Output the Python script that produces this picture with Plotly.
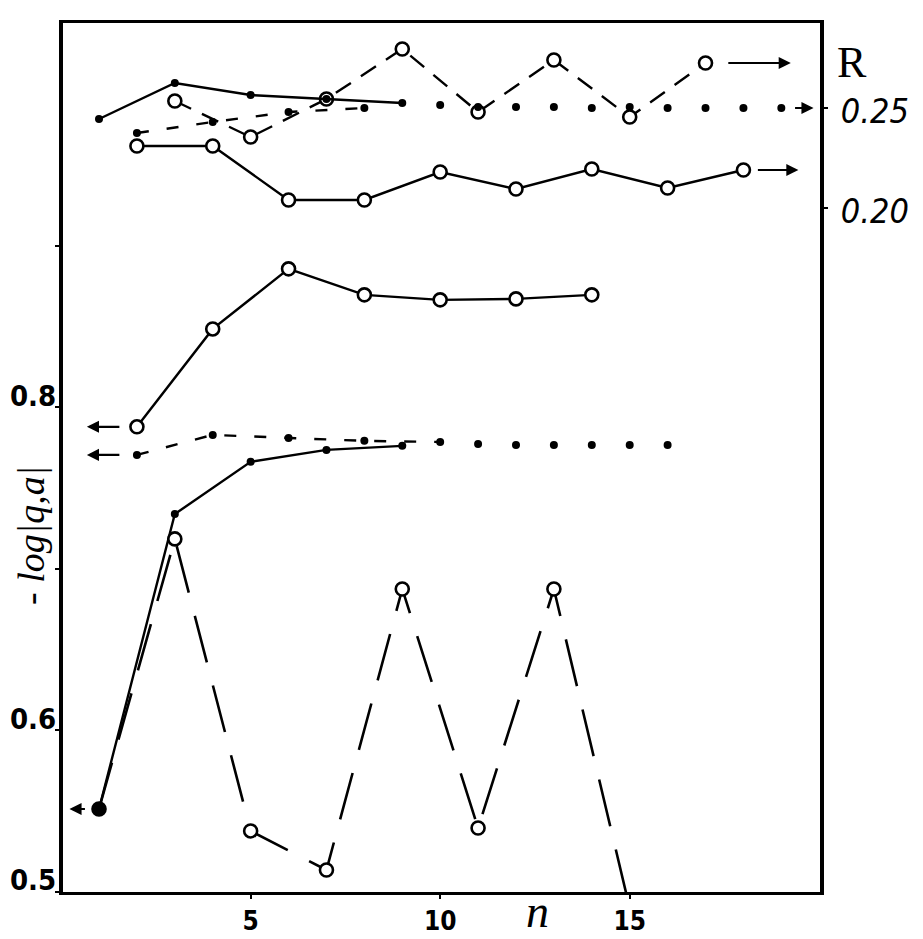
import plotly.graph_objects as go

# ---------------- data ----------------
# upper group, right axis R
top_dash_circ_n = [3, 5, 7, 9, 11, 13, 15, 17]
top_dash_circ_R = [0.2535, 0.2355, 0.2545, 0.2795, 0.248, 0.274, 0.2455, 0.2725]

top_solid_dot_n = [1, 3, 5, 7, 9]
top_solid_dot_R = [0.2445, 0.2625, 0.2565, 0.2545, 0.2525]

top_dash_dot_n = [2, 4, 6, 8]
top_dash_dot_R = [0.2375, 0.243, 0.248, 0.250]
top_dotted_n = [10, 11, 12, 13, 14, 15, 16, 17, 18, 19]
top_dotted_R = [0.2515, 0.2505, 0.2505, 0.2505, 0.250, 0.2505, 0.250, 0.250, 0.250, 0.250]

top_solid_circ_n = [2, 4, 6, 8, 10, 12, 14, 16, 18]
top_solid_circ_R = [0.231, 0.231, 0.204, 0.204, 0.218, 0.2095, 0.2195, 0.210, 0.219]

# lower group, left axis -log|q,a|
mid_circ_n = [2, 4, 6, 8, 10, 12, 14]
mid_circ_v = [0.788, 0.8486, 0.8858, 0.8697, 0.8666, 0.8672, 0.8697]

low_dash_dot_n = [2, 4, 6, 8, 10]
low_dash_dot_v = [0.7706, 0.783, 0.7811, 0.7793, 0.7786]
low_dotted_n = [11, 12, 13, 14, 15, 16]
low_dotted_v = [0.7774, 0.7768, 0.7768, 0.7768, 0.7768, 0.7768]

low_solid_dot_n = [1, 3, 5, 7, 9]
low_solid_dot_v = [0.5514, 0.734, 0.7663, 0.7737, 0.7762]

low_dash_circ_n = [1, 3, 5, 7, 9, 11, 13, 15]
low_dash_circ_v = [0.5514, 0.7186, 0.5378, 0.5136, 0.6876, 0.5396, 0.6876, 0.49]

x_ticks = [5, 10, 15]
y_ticks = [0.5, 0.6, 0.7, 0.8, 0.9]
y_ticktext = ["0.5", "0.6", "", "0.8", ""]
r_ticks = [0.20, 0.25]
r_ticktext = ["0.20", "0.25"]

# ---------------- styles ----------------
BLK = "black"
open_circ = dict(symbol="circle", size=13, color="white", line=dict(color=BLK, width=2.6))
dot = dict(symbol="circle", size=8, color=BLK)
NUMFONT = "DejaVu Sans Condensed, DejaVu Sans, sans-serif"

fig = go.Figure()

def add(x, y, axis, mode, marker=None, dash="solid", width=2.4):
    fig.add_trace(go.Scatter(
        x=x, y=y, yaxis=axis, mode=mode,
        line=dict(color=BLK, width=width, dash=dash),
        marker=marker, showlegend=False, hoverinfo="skip"))

# lower group (left axis)
add(low_dash_circ_n, low_dash_circ_v, "y", "lines", dash="48px,24px", width=2.6)
add(low_solid_dot_n, low_solid_dot_v, "y", "lines+markers", dot)
low_marker = dict(open_circ)
low_marker["color"] = [BLK] + ["white"] * (len(low_dash_circ_n) - 1)
add(low_dash_circ_n, low_dash_circ_v, "y", "markers", low_marker)
add(low_dash_dot_n, low_dash_dot_v, "y", "lines+markers", dot, dash="12px,18px")
add(low_dotted_n, low_dotted_v, "y", "markers", dot)
add(mid_circ_n, mid_circ_v, "y", "lines+markers", open_circ)

# upper group (right axis R)
add(top_solid_circ_n, top_solid_circ_R, "y2", "lines+markers", open_circ)
add(top_dash_circ_n, top_dash_circ_R, "y2", "lines+markers", open_circ, dash="18px,12px")
add(top_dash_dot_n, top_dash_dot_R, "y2", "lines+markers", dot, dash="12px,18px")
add(top_dotted_n, top_dotted_R, "y2", "markers", dot)
add(top_solid_dot_n, top_solid_dot_R, "y2", "lines+markers", dot)

# ---------------- arrows (anchored on series ends) ----------------
def arrow(x, y, yref, ax):
    fig.add_annotation(x=x, y=y, xref="x", yref=yref, ax=ax, ay=0,
                       showarrow=True, arrowhead=2, arrowsize=1.1,
                       arrowwidth=2.2, arrowcolor=BLK, text="")

arrow(top_dash_circ_n[-1] + 2.25, top_dash_circ_R[-1], "y2", -64)
arrow(top_dotted_n[-1] + 0.85, top_dotted_R[-1], "y2", -20)
arrow(top_solid_circ_n[-1] + 1.45, top_solid_circ_R[-1], "y2", -42)
arrow(mid_circ_n[0] - 1.32, mid_circ_v[0], "y", 34)
arrow(low_dash_dot_n[0] - 1.32, low_dash_dot_v[0], "y", 34)
arrow(low_solid_dot_n[0] - 0.78, low_solid_dot_v[0], "y", 17)

# ---------------- text ----------------
fig.add_annotation(text="R", xref="paper", yref="paper", x=1.02, y=0.985,
                   xanchor="left", yanchor="top", showarrow=False,
                   font=dict(family="Liberation Serif, serif", size=44, color=BLK))
fig.add_annotation(text="n", xref="paper", yref="paper", x=0.627, y=-0.054,
                   xanchor="center", yanchor="bottom", showarrow=False,
                   font=dict(family="Liberation Serif, serif", size=46, color=BLK,
                             style="italic"))
fig.add_annotation(text="- log|q,a|", xref="paper", yref="paper", x=-0.042, y=0.41,
                   xanchor="center", yanchor="middle", textangle=-90, showarrow=False,
                   font=dict(family="Liberation Serif, serif", size=38, color=BLK,
                             style="italic"))

fig.update_layout(
    width=923, height=939,
    margin=dict(l=63, r=103, t=23, b=47, autoexpand=False),
    paper_bgcolor="white", plot_bgcolor="white",
    xaxis=dict(range=[0.05, 20.02], tickvals=x_ticks, ticktext=[str(v) for v in x_ticks],
               showgrid=False, zeroline=False, showline=True, linecolor=BLK,
               linewidth=3, mirror=True, ticks="outside", ticklen=4, tickwidth=2,
               tickcolor=BLK, ticklabelstandoff=0, automargin=False,
               tickfont=dict(family=NUMFONT, size=26, color=BLK, weight="bold")),
    yaxis=dict(range=[0.5, 1.038], tickvals=y_ticks, ticktext=y_ticktext,
               showgrid=False, zeroline=False, showline=True, linecolor=BLK,
               linewidth=4, mirror=True, ticks="outside", ticklen=4, tickwidth=2,
               tickcolor=BLK, ticklabelstandoff=-7, ticklabelshift=-12, automargin=False,
               tickfont=dict(family=NUMFONT, size=29, color=BLK, weight="bold")),
    yaxis2=dict(range=[-0.142, 0.2925], overlaying="y", side="right",
                tickvals=r_ticks, ticktext=r_ticktext, showgrid=False, zeroline=False,
                showline=False, ticks="outside", ticklen=7, tickwidth=2, tickcolor=BLK,
                ticklabelstandoff=6, ticklabelshift=3, automargin=False,
                tickfont=dict(family="DejaVu Sans Condensed, sans-serif", size=34,
                              color=BLK, style="italic")),
)

fig.write_html("out.html")
